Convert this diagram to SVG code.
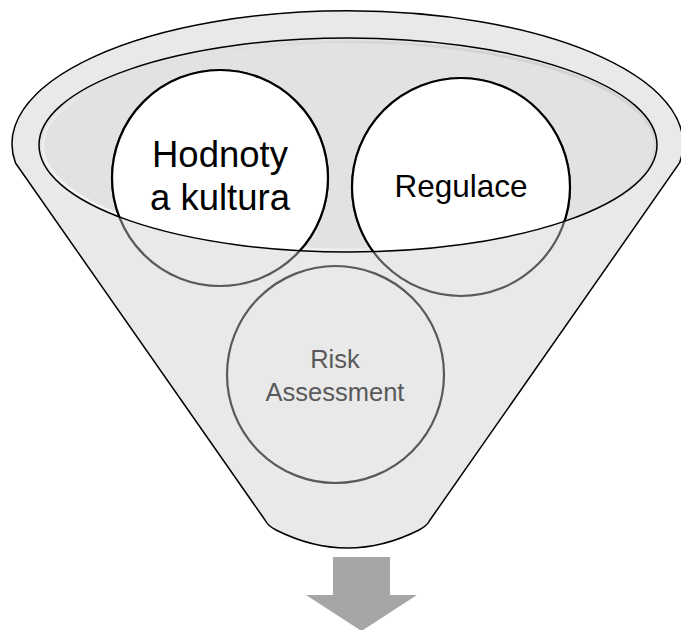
<svg xmlns="http://www.w3.org/2000/svg" width="681" height="630" viewBox="0 0 681 630">
  <style>
    .lbl { font-family: "Liberation Sans", Arial, sans-serif; text-anchor: middle; }
    .under { fill: none; stroke: #595959; stroke-width: 2.2; }
    .over { fill: #ffffff; stroke: #000000; stroke-width: 2.2; }
  </style>
  <defs>
    <clipPath id="innerClip">
      <ellipse cx="348" cy="145" rx="309" ry="107"/>
    </clipPath>
    <linearGradient id="rim" x1="0" y1="1" x2="1" y2="0">
      <stop offset="0" stop-color="#ffffff"/>
      <stop offset="0.45" stop-color="#e2e2e2"/>
      <stop offset="0.6" stop-color="#e2e2e2"/>
      <stop offset="1" stop-color="#c8c8c8"/>
    </linearGradient>
  </defs>
  <rect width="681" height="630" fill="#ffffff"/>
  <g id="funnel">
    <path d="M 15.5,163 L 265,520 Q 268,526 276,530 Q 347.5,566 419,530 Q 427,526 430,520 L 679.5,163 A 335.5 133 0 1 0 15.5,163 Z" fill="#e9e9e9" stroke="#000000" stroke-width="1.5"/>
    <ellipse cx="348" cy="145" rx="309" ry="107" fill="#e2e2e2"/>
    <ellipse cx="349" cy="146" rx="306" ry="104" fill="none" stroke="url(#rim)" stroke-width="2.5"/>
  </g>
  <g id="node-risk">
    <circle class="under" cx="335.5" cy="374.5" r="108.5"/>
    <text class="lbl" x="335" y="368" font-size="25.5" fill="#595959">Risk</text>
    <text class="lbl" x="335" y="401" font-size="25.5" fill="#595959">Assessment</text>
  </g>
  <g id="node-hodnoty">
    <circle class="under" cx="220" cy="178" r="108"/>
    <circle class="over" cx="220" cy="178" r="108" clip-path="url(#innerClip)"/>
  </g>
  <g id="node-regulace">
    <circle class="under" cx="461" cy="187" r="109"/>
    <circle class="over" cx="461" cy="187" r="109" clip-path="url(#innerClip)"/>
  </g>
  <g id="rim-line">
    <ellipse cx="348" cy="145" rx="309" ry="107" fill="none" stroke="#000000" stroke-width="1.5"/>
  </g>
  <g id="labels">
    <text class="lbl" x="220" y="167" font-size="36.5" fill="#000000">Hodnoty</text>
    <text class="lbl" x="220" y="210" font-size="36.5" fill="#000000">a kultura</text>
    <text class="lbl" x="461" y="197" font-size="31.5" fill="#000000">Regulace</text>
  </g>
  <g id="connectors">
    <polygon points="333,557 390,557 390,595 417,595 361.5,631 306,595 333,595" fill="#a6a6a6"/>
  </g>
</svg>
